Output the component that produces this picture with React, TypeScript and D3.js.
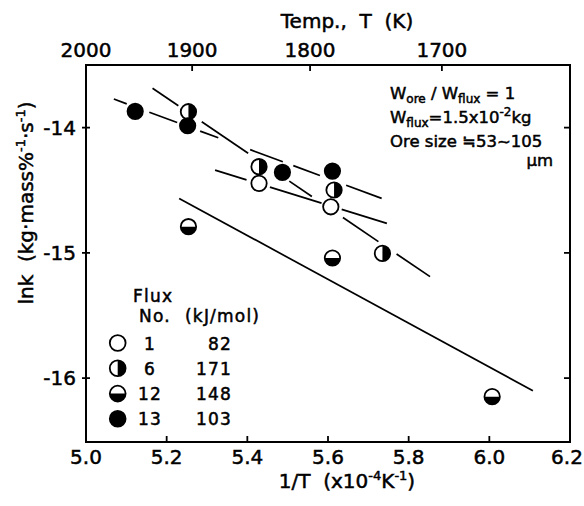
import React from 'react';
import * as d3 from 'd3';

const W = 584;
const H = 506;

// axis ticks
const X_TICKS = [5.0, 5.2, 5.4, 5.6, 5.8, 6.0, 6.2];
const Y_TICKS = [-14, -15, -16];
const TEMP_TICKS = [2000, 1900, 1800, 1700];

// legend
const FLUX_NO = ['1', '6', '12', '13'];
const ACT_ENERGY = ['82', '171', '148', '103'];
const MARKER_KIND = ['open', 'halfV', 'halfH', 'filled'];

// data: x = 1/T (x10^-4 K^-1), y = ln k
const FLUX1_X = [5.429, 5.607];
const FLUX1_Y = [-14.445, -14.632];
const FLUX6_X = [5.254, 5.429, 5.615, 5.735];
const FLUX6_Y = [-13.873, -14.312, -14.498, -15.004];
const FLUX12_X = [5.254, 5.611, 6.007];
const FLUX12_Y = [-14.791, -15.041, -16.148];
const FLUX13_X = [5.122, 5.252, 5.487, 5.611];
const FLUX13_Y = [-13.87, -13.985, -14.357, -14.347];

// fitted lines: end points (x, y) and drawn x-intervals
const FIT13_X = [5.069, 5.733];
const FIT13_Y = [-13.772, -14.565];
const FIT13_SEGS = [[5.069, 5.101], [5.157, 5.226], [5.283, 5.328], [5.407, 5.488], [5.514, 5.580], [5.645, 5.733]];
const FIT6_X = [5.165, 5.853];
const FIT6_Y = [-13.686, -15.19];
const FIT6_SEGS = [[5.165, 5.229], [5.287, 5.402], [5.504, 5.560], [5.637, 5.725], [5.770, 5.853]];
const FIT1_X = [5.320, 5.746];
const FIT1_Y = [-14.339, -14.764];
const FIT1_SEGS = [[5.320, 5.398], [5.456, 5.584], [5.634, 5.746]];
const FIT12_X = [5.231, 6.108];
const FIT12_Y = [-14.565, -16.101];
const FIT12_SEGS = [[5.231, 6.108]];

const FONT = '"DejaVu Sans", sans-serif';

const x = d3.scaleLinear().domain([5.0, 6.2]).range([86, 570]);
const y = d3.scaleLinear().domain([-16.51, -13.5]).range([442, 65]);

const R = 7.7;

function Marker({ cx, cy, kind, r = R }: { cx: number; cy: number; kind: string; r?: number }) {
  let half: string | null = null;
  if (kind === 'halfV') half = `M${cx},${cy - r} A${r},${r} 0 0 1 ${cx},${cy + r} Z`;
  if (kind === 'halfH') half = `M${cx - r},${cy} A${r},${r} 0 0 0 ${cx + r},${cy} Z`;
  return (
    <g>
      <circle cx={cx} cy={cy} r={r} fill={kind === 'filled' ? '#000' : '#fff'} stroke="#000" strokeWidth={1.8} />
      {half && <path d={half} fill="#000" />}
    </g>
  );
}

function FitLine({ xs, ys, segs, keyp }: { xs: number[]; ys: number[]; segs: number[][]; keyp: string }) {
  const f = d3.scaleLinear().domain(xs).range(ys);
  return (
    <g>
      {segs.map((s, i) => (
        <line
          key={keyp + i}
          x1={x(s[0])}
          y1={y(f(s[0]))}
          x2={x(s[1])}
          y2={y(f(s[1]))}
          stroke="#000"
          strokeWidth={1.7}
        />
      ))}
    </g>
  );
}

export default function App() {
  const series = [
    { xs: FLUX1_X, ys: FLUX1_Y, kind: 'open' },
    { xs: FLUX6_X, ys: FLUX6_Y, kind: 'halfV' },
    { xs: FLUX12_X, ys: FLUX12_Y, kind: 'halfH' },
    { xs: FLUX13_X, ys: FLUX13_Y, kind: 'filled' },
  ];
  const legendY = [343, 368.3, 393.6, 418.8];
  const txt = { stroke: '#000', strokeWidth: 0.5 } as const;
  return (
    <svg
      width={W}
      height={H}
      style={{ position: 'absolute', left: 0, top: 0, background: '#fff' }}
      fontFamily={FONT}
    >
      <rect x={0} y={0} width={W} height={H} fill="#fff" />
      {/* frame */}
      <rect x={86} y={65} width={484} height={377} fill="none" stroke="#000" strokeWidth={2} />

      <g {...txt}>
        {/* bottom axis */}
        {X_TICKS.map((t) => (
          <g key={'xb' + t}>
            <line x1={x(t)} x2={x(t)} y1={442} y2={436} stroke="#000" strokeWidth={1.8} />
            <text x={Math.min(x(t), W - 17)} y={464} fontSize={20} textAnchor="middle">{t.toFixed(1)}</text>
          </g>
        ))}
        {/* top axis (temperature) */}
        {TEMP_TICKS.map((T) => (
          <g key={'xt' + T}>
            <line x1={x(1e4 / T)} x2={x(1e4 / T)} y1={65} y2={71} stroke="#000" strokeWidth={1.8} />
            <text x={x(1e4 / T)} y={57} fontSize={20} textAnchor="middle">{T}</text>
          </g>
        ))}
        {/* left / right ticks */}
        {Y_TICKS.map((t) => (
          <g key={'y' + t}>
            <line x1={82} x2={90} y1={y(t)} y2={y(t)} stroke="#000" strokeWidth={1.8} />
            <line x1={564} x2={570} y1={y(t)} y2={y(t)} stroke="#000" strokeWidth={1.8} />
            <text x={76} y={y(t) + 7} fontSize={20} textAnchor="end">{String(t)}</text>
          </g>
        ))}

        {/* titles */}
        <text x={347} y={28} fontSize={20} textAnchor="middle" style={{ whiteSpace: 'pre' }}>
          {'Temp.,  T  (K)'}
        </text>
        <text x={347} y={487.5} fontSize={20} textAnchor="middle" style={{ whiteSpace: 'pre' }}>
          {'1/T  (x10'}
          <tspan fontSize={13} dy={-8}>-4</tspan>
          <tspan dy={8}>K</tspan>
          <tspan fontSize={13} dy={-8}>-1</tspan>
          <tspan dy={8}>)</tspan>
        </text>
        <text
          transform="translate(33,203) rotate(-90)"
          fontSize={20}
          textAnchor="middle"
          style={{ whiteSpace: 'pre' }}
        >
          {'lnk  (kg·mass%'}
          <tspan fontSize={13} dy={-8}>-1</tspan>
          <tspan dy={8}>·s</tspan>
          <tspan fontSize={13} dy={-8}>-1</tspan>
          <tspan dy={8}>)</tspan>
        </text>
      </g>

      {/* fitted lines */}
      <FitLine xs={FIT13_X} ys={FIT13_Y} segs={FIT13_SEGS} keyp="f13" />
      <FitLine xs={FIT6_X} ys={FIT6_Y} segs={FIT6_SEGS} keyp="f6" />
      <FitLine xs={FIT1_X} ys={FIT1_Y} segs={FIT1_SEGS} keyp="f1" />
      <FitLine xs={FIT12_X} ys={FIT12_Y} segs={FIT12_SEGS} keyp="f12" />

      {/* data markers */}
      {series.map((s) =>
        s.xs.map((v, i) => <Marker key={s.kind + i} cx={x(v)} cy={y(s.ys[i])} kind={s.kind} />)
      )}

      {/* annotation */}
      <g fontSize={16.5} style={{ whiteSpace: 'pre' }} {...txt}>
        <text x={390} y={99}>
          W<tspan fontSize={12} dy={4}>ore</tspan>
          <tspan dy={-4}>{' / W'}</tspan>
          <tspan fontSize={12} dy={4}>flux</tspan>
          <tspan dy={-4}>{' = 1'}</tspan>
        </text>
        <text x={390} y={123}>
          W<tspan fontSize={12} dy={4}>flux</tspan>
          <tspan dy={-4}>=1.5x10</tspan>
          <tspan fontSize={12} dy={-7}>-2</tspan>
          <tspan dy={7}>kg</tspan>
        </text>
        <text x={390} y={147}>{'Ore  size ≒53~105'}</text>
        <text x={553} y={166} textAnchor="end">μm</text>
      </g>

      {/* legend */}
      <g fontSize={17} letterSpacing={1.2}>
        <g {...txt}>
          <text x={133} y={302}>Flux</text>
          <text x={139} y={322}>No.</text>
          <text x={185} y={322}>(kJ/mol)</text>
        </g>
        {FLUX_NO.map((n, i) => (
          <g key={'lg' + n}>
            <Marker cx={117.7} cy={legendY[i]} kind={MARKER_KIND[i]} r={7.9} />
            <g {...txt}>
              <text x={150} y={legendY[i] + 6.5} textAnchor="middle">{n}</text>
              <text x={232} y={legendY[i] + 6.5} textAnchor="end">{ACT_ENERGY[i]}</text>
            </g>
          </g>
        ))}
      </g>
    </svg>
  );
}
